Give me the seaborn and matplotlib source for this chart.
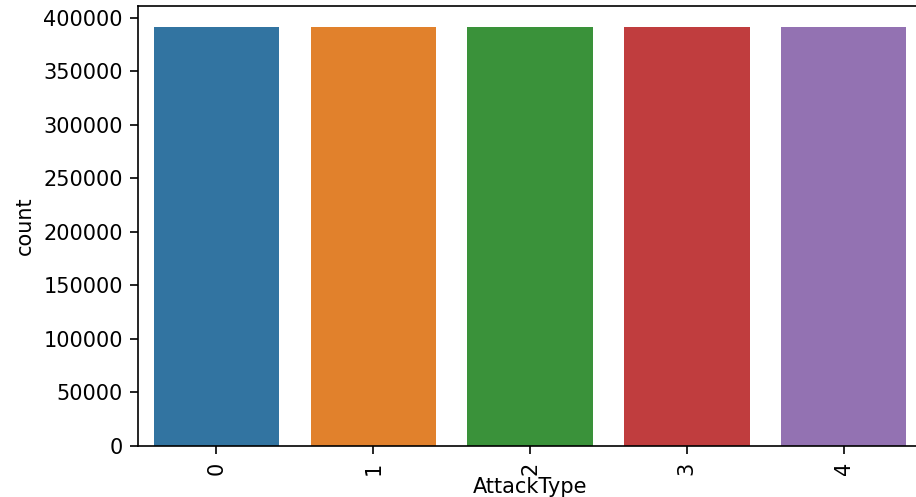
import matplotlib
matplotlib.use("Agg")
import matplotlib.pyplot as plt
import seaborn as sns
import pandas as pd

categories = ["0", "1", "2", "3", "4"]
counts = [391600, 391600, 391600, 391600, 391600]

df = pd.DataFrame({"AttackType": categories, "count": counts})

fig = plt.figure(figsize=(9.16, 4.97), dpi=100)
ax = fig.add_axes([0.1507, 0.1026, 0.8559, 0.8854])
sns.barplot(data=df, x="AttackType", y="count", hue="AttackType",
            palette="tab10", saturation=0.75, legend=False, ax=ax)
fs = 15
ax.set_xlabel("AttackType", fontsize=fs, labelpad=2)
ax.set_ylabel("count", fontsize=fs, labelpad=6)
ax.tick_params(axis="x", labelrotation=90, labelsize=fs, length=6, width=1.2, pad=5)
ax.tick_params(axis="y", labelsize=fs, length=6, width=1.2, pad=5)
for s in ax.spines.values():
    s.set_linewidth(1.2)
fig.savefig("out.png", dpi=100)
